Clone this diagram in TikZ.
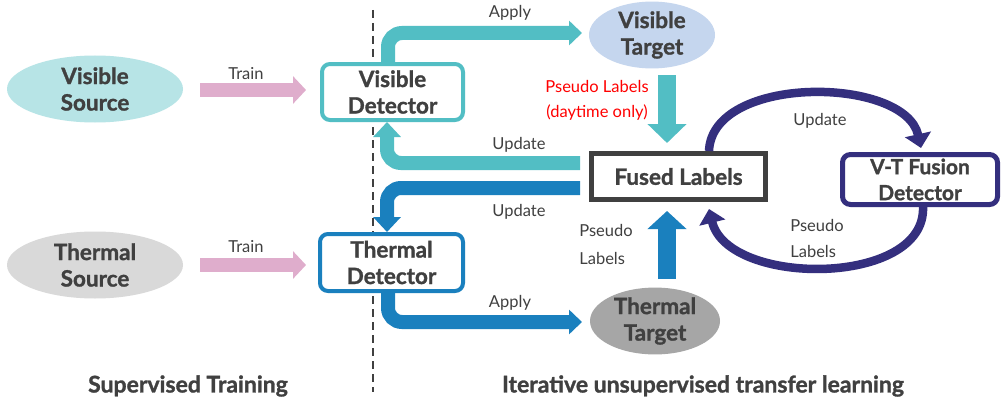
\documentclass[tikz,border=0pt]{standalone}
\usepackage{fontspec}
\setmainfont{Lato}[BoldFeatures={FakeBold=1.2}]
\usetikzlibrary{arrows.meta,shapes.geometric}
\definecolor{txt}{HTML}{404040}
\definecolor{vsrc}{HTML}{B7E4E6}
\definecolor{tsrc}{HTML}{D9D9D9}
\definecolor{vtgt}{HTML}{C5D6EE}
\definecolor{ttgt}{HTML}{A6A6A6}
\definecolor{pinkc}{HTML}{DFADCC}
\definecolor{tealc}{HTML}{52BEC4}
\definecolor{bluec}{HTML}{1A80BE}
\definecolor{navyc}{HTML}{342F7E}
\definecolor{boxc}{HTML}{404040}
\begin{document}
\begin{tikzpicture}[x=1pt,y=-1pt,
  bigtxt/.style={font=\fontsize{22.5}{26.5}\selectfont\bfseries,text=txt},
  ell/.style={ellipse,minimum width=176pt,minimum height=67pt,inner sep=0pt,align=center,bigtxt},
  det/.style={draw,rounded corners=8pt,line width=4pt,fill=white,align=center,bigtxt,inner sep=0pt},
  lbl/.style={font=\fontsize{16.5}{19}\selectfont,text=txt,inner sep=0pt},
  fat/.style={line width=14pt,rounded corners=14pt},
  bottomlbl/.style={font=\fontsize{23}{25}\selectfont\bfseries,text=txt,inner sep=0pt}
]
\useasboundingbox (0,0) rectangle (1008,404);
\fill[white] (0,0) rectangle (1008,404);
% dashed divider
\coordinate (dtop) at (373,10);
\coordinate (dbot) at (373,392);
\draw[line width=1.2pt,txt,dash pattern=on 8pt off 5pt] (dtop) -- (dbot);
% sources
\node[ell,fill=vsrc] (vs) at (95,89) {Visible\\Source};
\node[ell,fill=tsrc] (ts) at (95,265) {Thermal\\Source};
% detectors
\node[det,draw=tealc,minimum width=141pt,minimum height=56pt] (vd) at (392.5,92) {Visible\\Detector};
\node[det,draw=bluec,minimum width=143pt,minimum height=57pt] (td) at (391.5,262.5) {Thermal\\Detector};
% targets
\node[ell,fill=vtgt,minimum width=126pt,minimum height=64pt] (vt) at (652,35) {Visible\\Target};
\node[ell,fill=ttgt,minimum width=130pt,minimum height=63pt] (tt) at (655,321) {Thermal\\Target};
% fused labels
\node[draw=boxc,line width=5pt,minimum width=174pt,minimum height=46pt,bigtxt,inner sep=0pt] (fl) at (678.5,176.5) {Fused Labels};
% VT fusion detector
\node[det,draw=navyc,line width=5pt,minimum width=155pt,minimum height=50pt,font=\fontsize{21}{26}\selectfont\bfseries] (vtf) at (920,179.5) {V-T Fusion\\Detector};
% train arrows
\coordinate (vtr0) at (200,90);
\coordinate (vtr1) at (306,90);
\coordinate (ttr0) at (200,265);
\coordinate (ttr1) at (306,265);
\draw[pinkc,line width=14pt,-{Triangle[length=13pt,width=27pt]}] (vtr0) -- (vtr1);
\draw[pinkc,line width=14pt,-{Triangle[length=13pt,width=27pt]}] (ttr0) -- (ttr1);
\node[lbl] (trv) at (246,74) {Train};
\node[lbl] (trt) at (246,247) {Train};
% visible apply
\coordinate (va1) at (388,33);
\coordinate (va2) at (582,33);
\draw[tealc,fat,-{Triangle[length=13pt,width=24pt]}] (vd.north -| va1) -- (va1) -- (va2);
\node[lbl] (apv) at (510,13) {Apply};
% visible update
\coordinate (vu0) at (580,163);
\coordinate (vu1) at (387,163);
\draw[tealc,fat,-{Triangle[length=15pt,width=27pt]}] (vu0) -- (vu1) -- (vd.south -| vu1);
\node[lbl] (upv) at (519,145) {Update};
% thermal update
\coordinate (tu0) at (580,188);
\coordinate (tu1) at (387,188);
\draw[bluec,fat,-{Triangle[length=15pt,width=27pt]}] (tu0) -- (tu1) -- (td.north -| tu1);
\node[lbl] (upt) at (519,212) {Update};
% thermal apply
\coordinate (ta1) at (388,322);
\coordinate (ta2) at (582,322);
\draw[bluec,fat,-{Triangle[length=13pt,width=24pt]}] (td.south -| ta1) -- (ta1) -- (ta2);
\node[lbl] (apt) at (510,303) {Apply};
% vertical arrows into fused labels
\coordinate (vd0) at (667,75);
\coordinate (vd1) at (667,143);
\draw[tealc,line width=18pt,-{Triangle[length=19pt,width=38pt]}] (vd0) -- (vd1);
\coordinate (ud0) at (667,279);
\coordinate (ud1) at (667,211);
\draw[bluec,line width=18pt,-{Triangle[length=18pt,width=38pt]}] (ud0) -- (ud1);
% red label
\node[font=\fontsize{16.5}{25}\selectfont,text=red,align=center,inner sep=0pt] (pl) at (597,100.5) {Pseudo Labels\\(daytime only)};
\node[lbl,align=left,font=\fontsize{16.5}{28}\selectfont] (plt) at (606,244) {Pseudo\\Labels};
% curved arrows
\coordinate (c1a) at (709,151);
\coordinate (c1b) at (921,148);
\coordinate (c2a) at (923,207);
\coordinate (c2b) at (709,209);
\draw[navyc,line width=8.5pt,-{Triangle[length=14pt,width=26pt]}] (c1a) .. controls (712,74) and (905,76) .. (c1b);
\draw[navyc,line width=8.5pt,-{Triangle[length=14pt,width=26pt]}] (c2a) .. controls (926,287) and (728,287) .. (c2b);
\node[lbl] (upf) at (820,121) {Update};
\node[lbl,align=left,font=\fontsize{16.5}{26}\selectfont] (plf) at (817,238) {Pseudo\\Labels};
% bottom labels
\node[bottomlbl] (st) at (188,386) {Supervised Training};
\node[bottomlbl] (iu) at (703,386) {Iterative unsupervised transfer learning};
\end{tikzpicture}
\end{document}
